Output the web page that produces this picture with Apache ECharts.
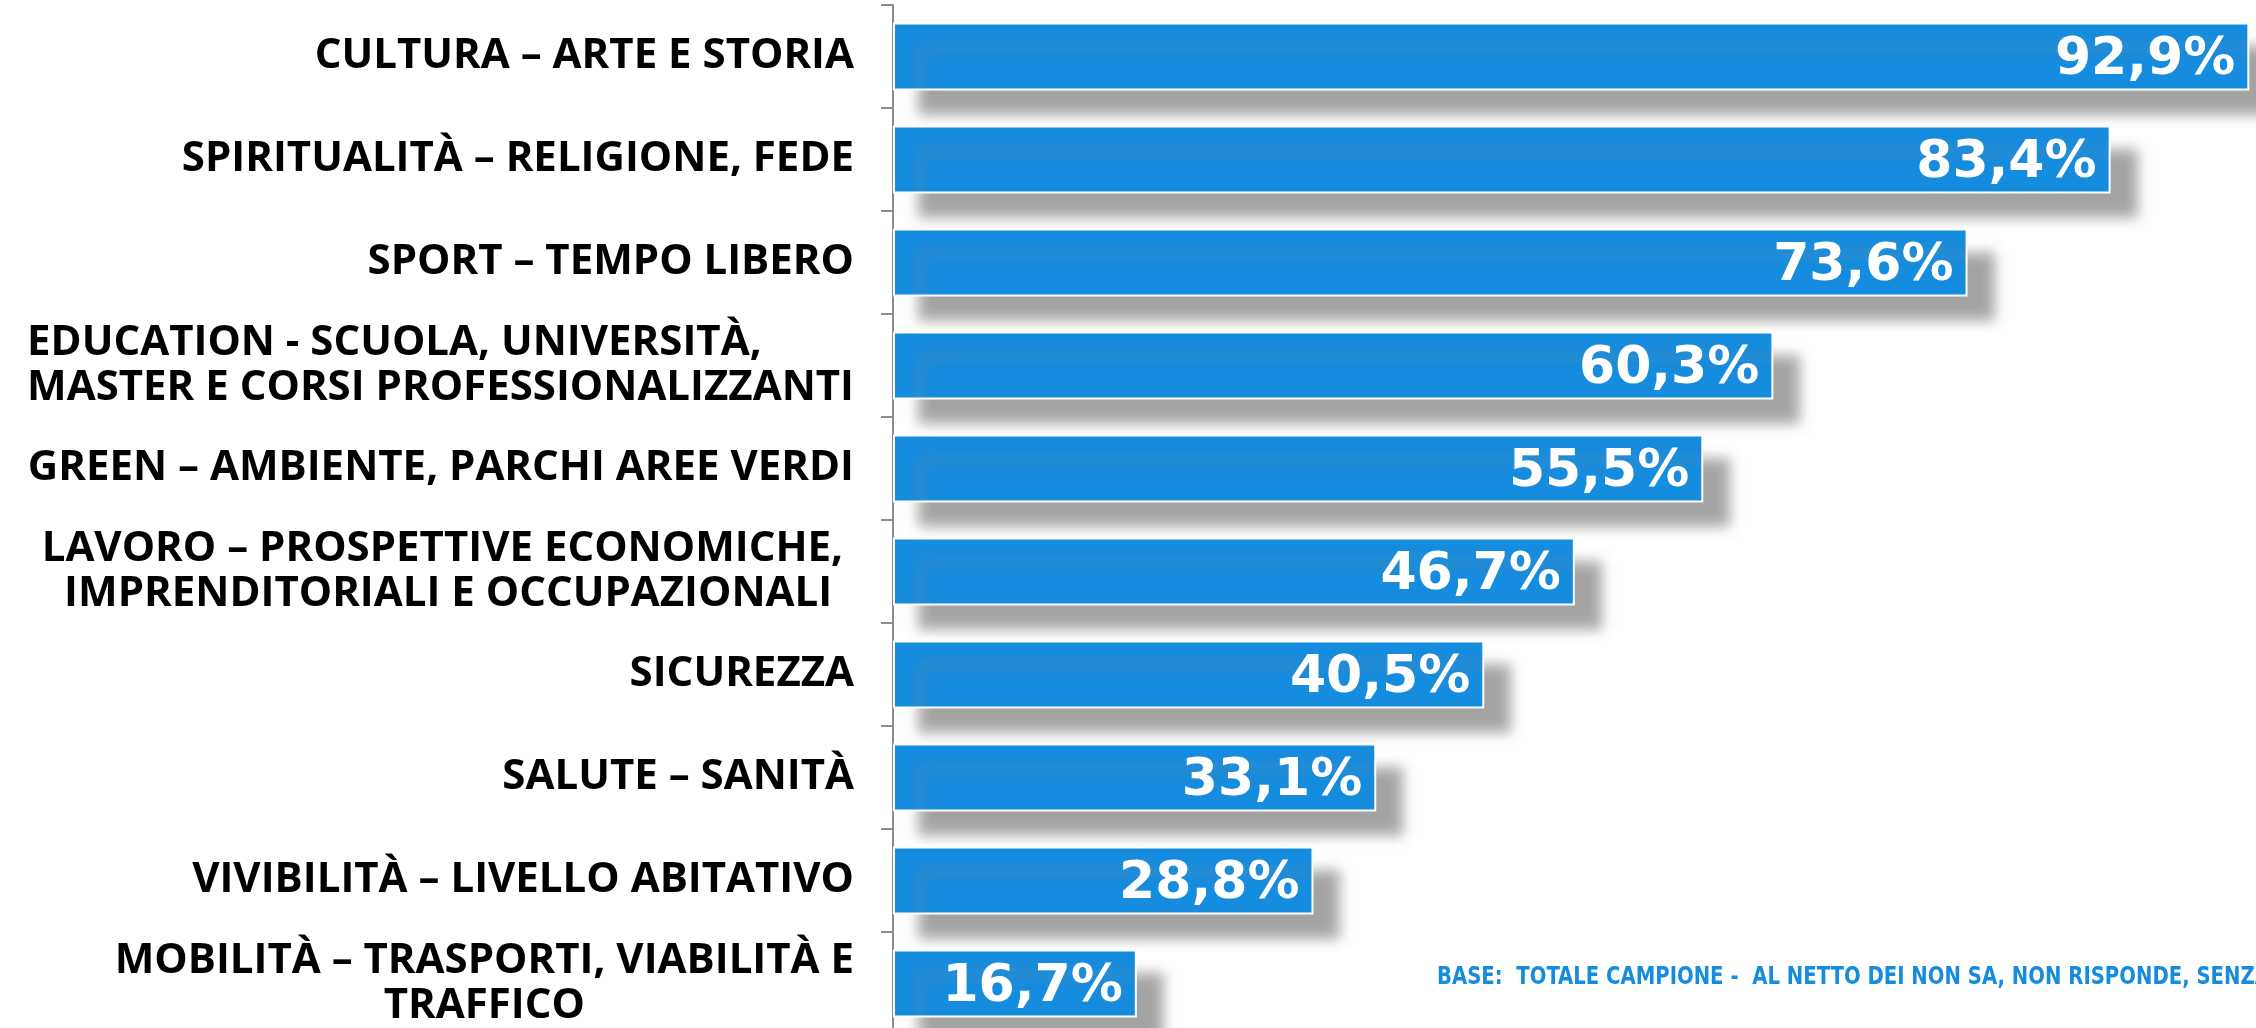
<!DOCTYPE html>
<html>
<head>
<meta charset="utf-8">
<script src="https://cdn.jsdelivr.net/npm/echarts@6/dist/echarts.min.js"></script>
<style>
html,body{margin:0;padding:0;background:#fff;overflow:hidden;}
#chart{width:2256px;height:1028px;}
</style>
</head>
<body>
<div id="chart"></div>
<script>
const categories = [
  "CULTURA – ARTE E STORIA",
  "SPIRITUALITÀ – RELIGIONE, FEDE",
  "SPORT – TEMPO LIBERO",
  "EDUCATION - SCUOLA, UNIVERSITÀ,\nMASTER E CORSI PROFESSIONALIZZANTI",
  "GREEN – AMBIENTE, PARCHI AREE VERDI",
  "LAVORO – PROSPETTIVE ECONOMICHE, \nIMPRENDITORIALI E OCCUPAZIONALI  ",
  "SICUREZZA",
  "SALUTE – SANITÀ",
  "VIVIBILITÀ – LIVELLO ABITATIVO",
  "MOBILITÀ – TRASPORTI, VIABILITÀ E\nTRAFFICO"
];
const values = [92.9, 83.4, 73.6, 60.3, 55.5, 46.7, 40.5, 33.1, 28.8, 16.7];
const noteText = "BASE:  TOTALE CAMPIONE -  AL NETTO DEI NON SA, NON RISPONDE, SENZA OPINIONE";

// line alignment style per category label (rich style name)
const labelAlign = ["r","r","r","l","r","r","r","r","r","c"];

const BLUE = "#168CDE";
const chart = echarts.init(document.getElementById('chart'), null, {renderer: 'canvas'});
const catFont = "'Open Sans', sans-serif";
const valFont = "'DejaVu Sans', sans-serif";
const richBase = {fontFamily: catFont, fontWeight: 'bold', fontSize: 42, lineHeight: 45, color: '#000'};

chart.setOption({
  animation: false,
  backgroundColor: '#ffffff',
  grid: {left: 893, top: 5, width: 1460, height: 1030, containLabel: false, outerBoundsMode: 'none'},
  xAxis: {
    type: 'value', min: 0, max: 100, show: false
  },
  yAxis: {
    type: 'category',
    data: categories,
    inverse: true,
    axisLine: {show: true, lineStyle: {color: '#8c8c8c', width: 2}},
    axisTick: {show: true, length: 12, lineStyle: {color: '#8c8c8c', width: 2}},
    axisLabel: {
      margin: 39,
      color: '#000',
      fontFamily: catFont,
      fontWeight: 'bold',
      fontSize: 42,
      lineHeight: 45,
      formatter: function (v, i) {
        const st = labelAlign[i] || 'r';
        return v.split('\n').map(function (line) { return '{' + st + '|' + line + '}'; }).join('\n');
      },
      rich: {
        r: Object.assign({align: 'right'}, richBase),
        l: Object.assign({align: 'left'}, richBase),
        c: Object.assign({align: 'center'}, richBase)
      }
    },
    splitLine: {show: false}
  },
  series: [{
    type: 'bar',
    data: values,
    barCategoryGap: '34%',
    itemStyle: {
      color: BLUE,
      borderColor: '#ffffff',
      borderWidth: 2,
      shadowColor: 'rgba(140,140,140,0.8)',
      shadowBlur: 12,
      shadowOffsetX: 26,
      shadowOffsetY: 24
    },
    label: {
      show: true,
      position: 'insideRight',
      distance: 14,
      offset: [0, 4],
      color: '#fff',
      fontFamily: valFont,
      fontWeight: 'bold',
      fontSize: 52,
      formatter: function (p) { return p.value.toFixed(1).replace('.', ',') + '%'; }
    }
  }],
  graphic: [{
    type: 'text',
    x: 1437,
    y: 966,
    scaleX: 0.91,
    style: {
      text: noteText,
      fill: BLUE,
      font: "bold 24px 'Liberation Sans Narrow', 'DejaVu Sans Condensed', sans-serif"
    }
  }]
});
</script>
</body>
</html>
